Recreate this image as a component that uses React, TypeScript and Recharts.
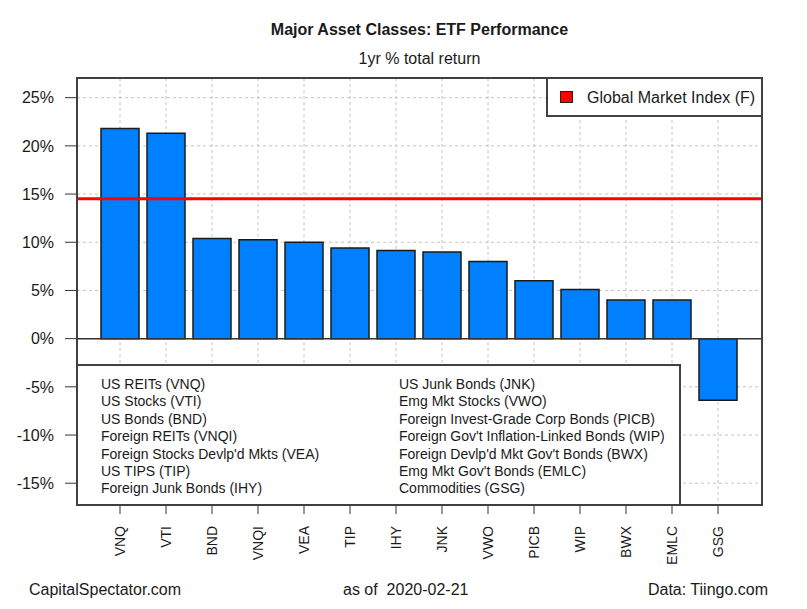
import {
    BarChart,
    Bar,
    XAxis,
    YAxis,
    CartesianGrid,
    ReferenceLine,
} from "recharts";

const tickers = ["VNQ", "VTI", "BND", "VNQI", "VEA", "TIP", "IHY", "JNK", "VWO", "PICB", "WIP", "BWX", "EMLC", "GSG"];
const oneYearReturn = [21.8, 21.3, 10.4, 10.25, 10.0, 9.4, 9.15, 9.0, 8.0, 6.0, 5.1, 4.0, 4.0, -6.4];
const globalMarketIndex = 14.5;
const yTicks = [-15, -10, -5, 0, 5, 10, 15, 20, 25];

const legendLeft = [
    "US REITs (VNQ)",
    "US Stocks (VTI)",
    "US Bonds (BND)",
    "Foreign REITs (VNQI)",
    "Foreign Stocks Devlp'd Mkts (VEA)",
    "US TIPS (TIP)",
    "Foreign Junk Bonds (IHY)",
];
const legendRight = [
    "US Junk Bonds (JNK)",
    "Emg Mkt Stocks (VWO)",
    "Foreign Invest-Grade Corp Bonds (PICB)",
    "Foreign Gov't Inflation-Linked Bonds (WIP)",
    "Foreign Devlp'd Mkt Gov't Bonds (BWX)",
    "Emg Mkt Gov't Bonds (EMLC)",
    "Commodities (GSG)",
];

const data = tickers.map((ticker, i) => ({ ticker, ret: oneYearReturn[i] }));

const FONT = "'Liberation Sans', Arial, sans-serif";
const INK = "#1a1a1a";
const FRAME = "2px solid #404040";

const XTick = ({ x, y, payload }: any) => (
    <g transform={`translate(${x},${y})`}>
        <text
            transform="rotate(-90)"
            textAnchor="end"
            dy="0.36em"
            fill={INK}
            fontSize={14}
            fontFamily={FONT}
        >
            {payload.value}
        </text>
    </g>
);

export default function App() {
    return (
        <div
            style={{
                position: "absolute",
                left: 0,
                top: 0,
                width: 807,
                height: 609,
                background: "#fff",
                fontFamily: FONT,
                color: INK,
            }}
        >
            <BarChart
                width={807}
                height={609}
                data={data}
                margin={{ top: 78, right: 45, bottom: 44, left: 17 }}
            >
                <CartesianGrid stroke="#c4c4c4" strokeDasharray="3 3" />
                <XAxis
                    dataKey="ticker"
                    interval={0}
                    padding={{ left: 20, right: 21 }}
                    axisLine={false}
                    tickLine={{ stroke: "#333" }}
                    tickSize={9}
                    tickMargin={12}
                    height={60}
                    tick={<XTick />}
                />
                <YAxis
                    type="number"
                    domain={[-17.26, 27.04]}
                    ticks={yTicks}
                    interval={0}
                    allowDataOverflow
                    axisLine={false}
                    tickLine={{ stroke: "#333" }}
                    tickSize={12}
                    tickMargin={11}
                    width={60}
                    tickFormatter={(v: number) => `${v}%`}
                    tick={{ fill: INK, fontSize: 16, fontFamily: FONT }}
                />
                <ReferenceLine y={0} stroke="#333" strokeWidth={1.5} />
                <Bar
                    dataKey="ret"
                    barSize={38}
                    fill="#0080ff"
                    stroke={INK}
                    strokeWidth={1.5}
                    isAnimationActive={false}
                />
                <ReferenceLine y={globalMarketIndex} stroke="#ff0000" strokeWidth={3} />
            </BarChart>

            {/* titles */}
            <div
                style={{
                    position: "absolute",
                    left: 77,
                    width: 685,
                    top: 21,
                    textAlign: "center",
                    fontSize: 16,
                    fontWeight: "bold",
                }}
            >
                Major Asset Classes: ETF Performance
            </div>
            <div
                style={{
                    position: "absolute",
                    left: 77,
                    width: 685,
                    top: 50,
                    textAlign: "center",
                    fontSize: 16,
                }}
            >
                1yr % total return
            </div>

            {/* global market legend */}
            <div
                style={{
                    position: "absolute",
                    left: 546,
                    top: 77,
                    width: 217,
                    height: 40,
                    boxSizing: "border-box",
                    background: "#fff",
                    border: FRAME,
                }}
            >
                <div
                    style={{
                        position: "absolute",
                        left: 12,
                        top: 12,
                        width: 11,
                        height: 10,
                        background: "#ff0000",
                        border: "1px solid #222",
                    }}
                />
                <div style={{ position: "absolute", left: 39, top: 10, fontSize: 16, whiteSpace: "nowrap" }}>
                    Global Market Index (F)
                </div>
            </div>

            {/* ticker key */}
            <div
                style={{
                    position: "absolute",
                    left: 76,
                    top: 364,
                    width: 605,
                    height: 142,
                    boxSizing: "border-box",
                    background: "#fff",
                    border: FRAME,
                }}
            >
                {legendLeft.map((t, i) => (
                    <div
                        key={t}
                        style={{
                            position: "absolute",
                            left: 23,
                            top: 10 + i * 17.4,
                            fontSize: 14,
                            lineHeight: "17px",
                            whiteSpace: "nowrap",
                        }}
                    >
                        {t}
                    </div>
                ))}
                {legendRight.map((t, i) => (
                    <div
                        key={t}
                        style={{
                            position: "absolute",
                            left: 321,
                            top: 10 + i * 17.4,
                            fontSize: 14,
                            lineHeight: "17px",
                            whiteSpace: "nowrap",
                        }}
                    >
                        {t}
                    </div>
                ))}
            </div>

            {/* plot frame, drawn last so the keys sit inside it */}
            <div
                style={{
                    position: "absolute",
                    left: 76,
                    top: 77,
                    width: 687,
                    height: 429,
                    boxSizing: "border-box",
                    border: FRAME,
                    pointerEvents: "none",
                }}
            />

            {/* footer */}
            <div style={{ position: "absolute", left: 29, top: 581, fontSize: 16, whiteSpace: "nowrap" }}>
                CapitalSpectator.com
            </div>
            <div style={{ position: "absolute", left: 343, top: 581, fontSize: 16, whiteSpace: "pre" }}>
                {"as of  2020-02-21"}
            </div>
            <div style={{ position: "absolute", right: 39, top: 581, fontSize: 16, whiteSpace: "nowrap" }}>
                Data: Tiingo.com
            </div>
        </div>
    );
}
